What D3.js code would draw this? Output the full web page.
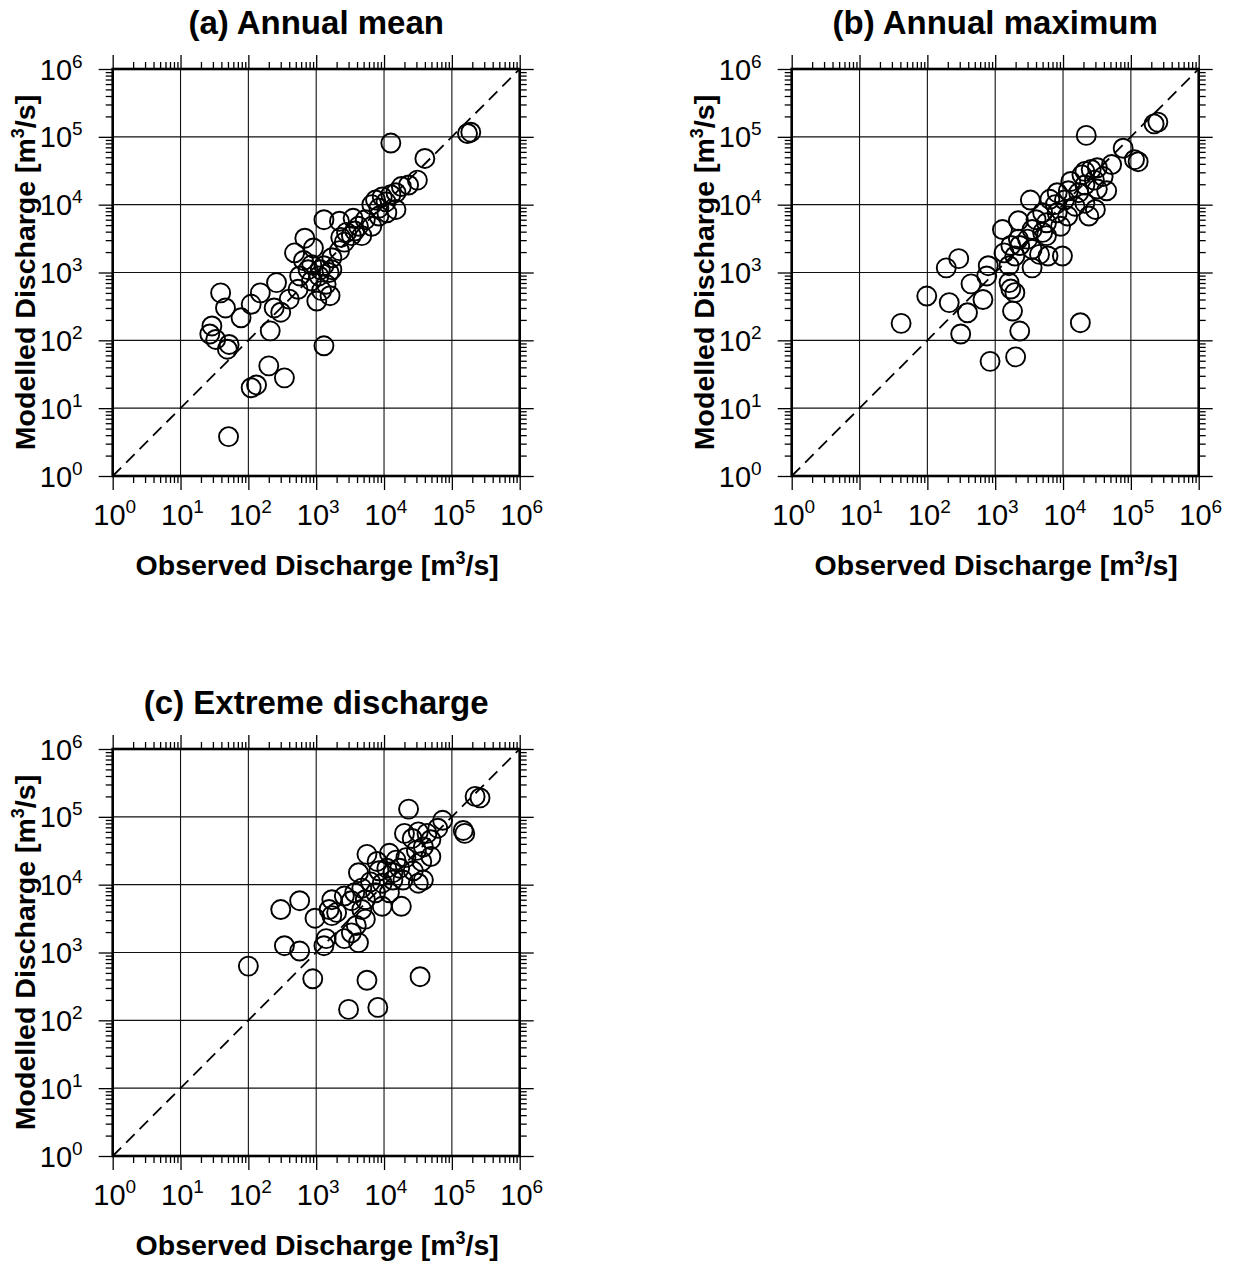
<!DOCTYPE html>
<html>
<head>
<meta charset="utf-8">
<script src="https://cdn.jsdelivr.net/npm/d3@7"></script>
<style>
  body { margin: 0; background: #fff; }
  svg { display: block; }
  text { font-family: "Liberation Sans", Arial, Helvetica, sans-serif; fill: #000; }
</style>
</head>
<body>
<div id="chart"></div>
<script>
// decades shown on both axes (log scale, 10^0 .. 10^6)
var exponents = [0, 1, 2, 3, 4, 5, 6];
var minorMultipliers = [2, 3, 4, 5, 6, 7, 8, 9];

var panelTitles = ["(a) Annual mean", "(b) Annual maximum", "(c) Extreme discharge"];

// (a) annual mean, m3/s
var obsMean = [1.7e5, 1.9e5, 1.26e4, 4.0e4, 3.1e4, 2.3e4, 1.8e4, 1.5e4, 1.26e4, 9.4e3,
  7.5e3, 1.07e4, 6.6e3, 1.5e4, 8.4e3, 1.1e4, 8.4e3, 5.3e3, 6.6e3, 1.3e3,
  2.2e3, 3.5e3, 4.2e3, 2.8e3, 3.3e3, 4.7e3, 2.3e3, 3.7e3, 2.6e3, 680,
  910, 480, 650, 860, 1.3e3, 1.7e3, 2.2e3, 1.55e3, 1.1e3, 570,
  760, 1.15e3, 1.7e3, 850, 1.4e3, 1.2e3, 1.6e3, 1.02e3, 540, 400,
  260, 150, 110, 240, 300, 210, 39, 46, 78, 29,
  27, 33, 52, 49, 1.3e3, 200, 110, 132, 340, 51];
var modMean = [1.12e5, 1.17e5, 8.1e4, 4.8e4, 2.3e4, 1.95e4, 1.85e4, 1.5e4, 1.4e4, 1.3e4,
  1.17e4, 1.1e4, 1.0e4, 8.5e3, 8.9e3, 7.6e3, 6.8e3, 6.0e3, 4.8e3, 6.0e3,
  5.7e3, 6.3e3, 4.8e3, 3.9e3, 3.5e3, 3.5e3, 3.3e3, 4.1e3, 2.8e3, 3.2e3,
  2.3e3, 1.95e3, 1.5e3, 1.3e3, 1.26e3, 1.65e3, 2.1e3, 1.0e3, 890, 890,
  1.1e3, 1.1e3, 1.1e3, 750, 670, 540, 455, 380, 565, 405,
  710, 500, 340, 300, 260, 138, 500, 300, 215, 163,
  124, 103, 87, 74, 83, 42, 20, 22, 28, 3.8];

// (b) annual maximum, m3/s
var obsMax = [2.2e5, 2.5e5, 2.2e4, 7.7e4, 1.13e5, 1.28e5, 5.2e4, 3.2e4, 2.6e4, 2.1e4,
  3.9e4, 2.9e4, 1.3e4, 2.1e4, 3.2e4, 4.4e4, 1.7e4, 1.2e4, 1.05e4, 2.1e4,
  3.0e4, 2.4e4, 7.7e3, 6.4e3, 8.2e3, 1.17e4, 3.3e3, 5.0e3, 4.0e3, 5.7e3,
  9.2e3, 3.5e3, 2.2e3, 1.28e3, 5.7e3, 3.0e3, 1.7e3, 2.3e3, 1.35e3, 3.5e3,
  4.5e3, 6.0e3, 9.8e3, 1.95e3, 3.5e3, 1.6e3, 790, 750, 290, 190,
  440, 1.7e3, 98, 210, 660, 1.6e3, 1.95e3, 390, 1.8e3, 2.3e3,
  310, 41, 1.8e4, 840, 2.0e3, 1.9e4, 8.2e3, 1.5e4, 2.2e3, 5.0e3];
var modMax = [1.55e5, 1.65e5, 1.05e5, 6.8e4, 4.6e4, 4.3e4, 3.9e4, 3.5e4, 3.3e4, 3.1e4,
  2.6e4, 2.3e4, 2.2e4, 1.95e4, 1.7e4, 1.6e4, 1.5e4, 1.6e4, 1.17e4, 1.05e4,
  8.5e3, 6.8e3, 1.0e4, 1.2e4, 7.6e3, 6.8e3, 1.17e4, 7.6e3, 6.0e3, 5.4e3,
  4.8e3, 4.3e3, 5.8e3, 4.3e3, 3.5e3, 3.1e3, 2.5e3, 2.5e3, 1.95e3, 2.2e3,
  1.85e3, 1.75e3, 1.75e3, 1.75e3, 1.17e3, 1.26e3, 1.26e3, 890, 1.6e3, 1.17e3,
  680, 570, 450, 360, 400, 710, 505, 255, 270, 137,
  124, 178, 182, 49, 57, 2.75e4, 1.5e4, 9.5e3, 3.1e3, 3.9e3];

// (c) extreme discharge, m3/s
var obsExt = [2.2e5, 2.6e5, 2.3e4, 7.3e4, 1.47e5, 1.55e5, 6.2e4, 4.3e4, 3.2e4, 2.0e4,
  2.6e4, 4.9e4, 3.8e4, 3.0e4, 4.9e4, 3.6e4, 2.1e4, 1.5e4, 1.2e4, 5.6e3,
  7.9e3, 4.2e3, 8.4e3, 1.1e4, 1.7e4, 2.7e4, 3.8e4, 3.2e4, 1.9e4, 1.35e4,
  9.4e3, 6.3e3, 4.7e3, 7.5e3, 1.2e4, 3.7e3, 2.6e3, 5.3e3, 3.3e3, 9.4e3,
  1.8e4, 4.7e3, 1.7e3, 1.55e3, 1.7e3, 2.0e3, 960, 570, 300, 5.3e3,
  3.9e3, 3.3e3, 2.6e3, 4.2e3, 1.4e3, 1.3e3, 570, 340, 100, 890,
  5.6e3, 3.4e4, 3.0e3, 8.1e3, 1.35e4];
var modExt = [2.0e5, 1.9e5, 1.3e5, 8.9e4, 6.3e4, 5.7e4, 6.8e4, 5.7e4, 6.0e4, 5.7e4,
  4.8e4, 4.6e4, 3.6e4, 3.2e4, 2.6e4, 2.2e4, 2.5e4, 2.3e4, 2.9e4, 2.8e4,
  2.2e4, 1.5e4, 1.6e4, 1.75e4, 1.75e4, 1.6e4, 1.17e4, 1.05e4, 1.17e4, 1.17e4,
  1.05e4, 1.1e4, 8.9e3, 7.6e3, 7.6e3, 7.6e3, 6.8e3, 6.0e3, 5.8e3, 4.8e3,
  4.8e3, 4.3e3, 6.0e3, 4.3e3, 3.5e3, 3.9e3, 3.2e3, 5.8e3, 4.3e3, 3.1e3,
  2.5e3, 1.95e3, 1.6e3, 1.4e3, 1.6e3, 1.26e3, 1.05e3, 1.26e3, 630, 410,
  390, 440, 145, 155, 1.5e4];

var width = 1233, height = 1265;
var size = 407;

var panels = [
  {title: panelTitles[0], obs: obsMean, mod: modMean, left: 112.7, top: 69},
  {title: panelTitles[1], obs: obsMax, mod: modMax, left: 791.7, top: 69},
  {title: panelTitles[2], obs: obsExt, mod: modExt, left: 112.7, top: 749}
];

var svg = d3.select("#chart").append("svg")
    .attr("width", width)
    .attr("height", height);

var majors = exponents.map(function(e){ return Math.pow(10, e); });
var minors = [];
exponents.slice(0, -1).forEach(function(e){
  minorMultipliers.forEach(function(m){ minors.push(m * Math.pow(10, e)); });
});

// "10" + superscript exponent
function powerLabel(sel, e) {
  sel.append("tspan").text("10");
  sel.append("tspan").attr("dy", -12).attr("font-size", 19).text(e);
}

// "... [m3/s]" with superscript 3
function unitLabel(sel, name) {
  sel.append("tspan").text(name + " [m");
  sel.append("tspan").attr("dy", -11).attr("font-size", 18).text("3");
  sel.append("tspan").attr("dy", 11).text("/s]");
}

panels.forEach(function(p) {
  var g = svg.append("g").attr("transform", "translate(" + p.left + "," + p.top + ")");

  var x = d3.scaleLog().domain([1, 1e6]).range([0, size]);
  var y = d3.scaleLog().domain([1, 1e6]).range([size, 0]);

  // grid
  g.append("g").selectAll("line.vx").data(majors).enter().append("line")
      .attr("x1", d => x(d)).attr("x2", d => x(d))
      .attr("y1", 0).attr("y2", size)
      .attr("stroke", "#111").attr("stroke-width", 1.1);
  g.append("g").selectAll("line.hy").data(majors).enter().append("line")
      .attr("y1", d => y(d)).attr("y2", d => y(d))
      .attr("x1", 0).attr("x2", size)
      .attr("stroke", "#111").attr("stroke-width", 1.1);

  // ticks on all four sides, major and minor, pointing outwards
  var axes = [
    {ax: d3.axisBottom(x), tr: "translate(0," + size + ")"},
    {ax: d3.axisTop(x), tr: null},
    {ax: d3.axisLeft(y), tr: null},
    {ax: d3.axisRight(y), tr: "translate(" + size + ",0)"}
  ];
  axes.forEach(function(a) {
    [[majors, 14], [minors, 7]].forEach(function(t) {
      var ag = g.append("g")
          .call(a.ax.tickValues(t[0]).tickSize(t[1]).tickFormat(""));
      if (a.tr) ag.attr("transform", a.tr);
      ag.select(".domain").remove();
      ag.selectAll("line").attr("stroke", "#000").attr("stroke-width", 1.3);
    });
  });

  // 1:1 line
  g.append("line")
      .attr("x1", x(1)).attr("y1", y(1))
      .attr("x2", x(1e6)).attr("y2", y(1e6))
      .attr("stroke", "#000").attr("stroke-width", 1.8)
      .attr("stroke-dasharray", "12,7");

  // frame
  g.append("rect")
      .attr("x", 0).attr("y", 0).attr("width", size).attr("height", size)
      .attr("fill", "none").attr("stroke", "#000").attr("stroke-width", 2.6);

  // points
  g.append("g").selectAll("circle")
      .data(d3.range(p.obs.length))
      .enter().append("circle")
      .attr("cx", i => x(p.obs[i]))
      .attr("cy", i => y(p.mod[i]))
      .attr("r", 9.5)
      .attr("fill", "none")
      .attr("stroke", "#000")
      .attr("stroke-width", 1.9);

  // tick labels
  g.append("g").selectAll("text").data(exponents).enter().append("text")
      .attr("x", e => x(Math.pow(10, e)) + 2)
      .attr("y", size + 49)
      .attr("text-anchor", "middle")
      .attr("font-size", 29)
      .each(function(e){ powerLabel(d3.select(this), e); });
  g.append("g").selectAll("text").data(exponents).enter().append("text")
      .attr("x", -30)
      .attr("y", e => y(Math.pow(10, e)) + 10.5)
      .attr("text-anchor", "end")
      .attr("font-size", 29)
      .each(function(e){ powerLabel(d3.select(this), e); });

  // axis titles
  g.append("text")
      .attr("x", size / 2 + 1)
      .attr("y", size + 99)
      .attr("text-anchor", "middle")
      .attr("font-size", 28.5).attr("font-weight", "bold")
      .call(unitLabel, "Observed Discharge");
  g.append("text")
      .attr("transform", "translate(-78," + (size / 2) + ") rotate(-90)")
      .attr("text-anchor", "middle")
      .attr("font-size", 28.5).attr("font-weight", "bold")
      .call(unitLabel, "Modelled Discharge");

  // panel title
  g.append("text")
      .attr("x", size / 2)
      .attr("y", -35)
      .attr("text-anchor", "middle")
      .attr("font-size", 33).attr("font-weight", "bold")
      .text(p.title);
});
</script>
</body>
</html>
